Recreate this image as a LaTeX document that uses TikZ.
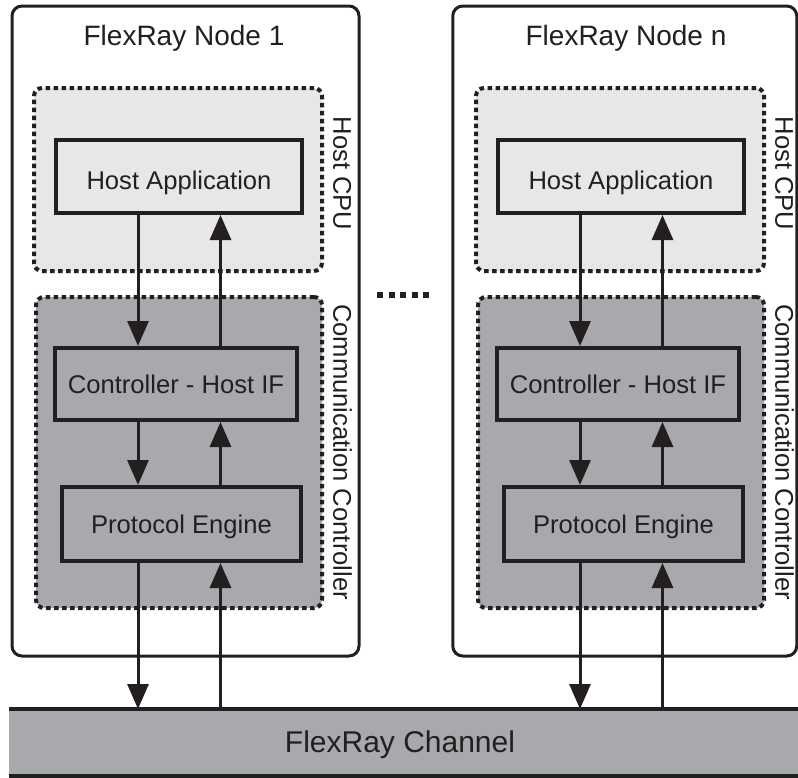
\documentclass[tikz,border=0pt]{standalone}
\usepackage{fontspec}
\setmainfont{Liberation Sans}
\usetikzlibrary{arrows.meta}

\definecolor{ink}{RGB}{35,31,32}
\definecolor{hostfill}{RGB}{230,231,232}
\definecolor{ccfill}{RGB}{167,169,172}

\tikzset{
  nodebox/.style={draw=ink, line width=3pt, rounded corners=10pt, inner sep=0pt},
  group/.style={draw=ink, line width=4pt, dash pattern=on 4.5pt off 3.5pt,
                rounded corners=8pt, inner sep=0pt},
  hostgroup/.style={group, fill=hostfill},
  ccgroup/.style={group, fill=ccfill},
  block/.style={draw=ink, line width=4pt, inner sep=0pt, text=ink,
                font=\fontsize{25.6}{30}\selectfont, text height=18.3pt, text depth=0pt},
  sidelabel/.style={rotate=-90, inner sep=0pt, text=ink,
                font=\fontsize{25.6}{30}\selectfont, text height=18.3pt, text depth=0pt},
  title/.style={anchor=base, inner sep=0pt, text=ink, font=\fontsize{28}{32}\selectfont},
  link/.style={draw=ink, line width=3pt, -{Triangle[length=25pt,width=21pt]}},
}

\begin{document}
\begin{tikzpicture}[x=1pt, y=-1pt]
  \useasboundingbox (0,0) rectangle (798,777);
  \clip (0,0) rectangle (798,777);
  \fill[white] (0,0) rectangle (798,777);

  % the shared bus
  \node[fill=ccfill, minimum width=793pt, minimum height=67pt, inner sep=0pt,
        anchor=north west] (ch) at (9,709) {};
  \draw[ink, line width=4.5pt] (ch.north west) -- (ch.north east);
  \draw[ink, line width=4.5pt] (ch.south west) -- (ch.south east);
  \node[inner sep=0pt, text=ink, font=\fontsize{30}{34}\selectfont,
        text height=21.5pt, text depth=0pt] (chlabel) at (400,742) {FlexRay Channel};

  % two FlexRay nodes, the second one shifted to the right
  \foreach \s/\dx/\w/\cx in {1/0/347/185.5, n/442/344/182.75} {
    \begin{scope}[xshift=\dx pt]
      \node[nodebox, minimum width=\w pt, minimum height=650pt] (box\s) at (\cx,331) {};
      \node[title] (title\s) at (184,45) {FlexRay Node \s};

      \node[hostgroup, minimum width=288pt, minimum height=183pt] (cpu\s) at (178,179.5) {};
      \node[ccgroup, minimum width=286pt, minimum height=311pt] (cc\s) at (179,452.5) {};
      \node[sidelabel] (cpulabel\s) at (342.5,173.5) {Host CPU};
      \node[sidelabel] (cclabel\s) at (342.5,452) {Communication Controller};

      \node[block, fill=hostfill, minimum width=246pt, minimum height=73pt,
            text height=26.3pt] (app\s) at (179,176.5) {Host Application};
      \node[block, fill=ccfill, minimum width=242pt, minimum height=72pt]
            (chi\s) at (176,384) {Controller - Host IF};
      \node[block, fill=ccfill, minimum width=239pt, minimum height=74pt]
            (pe\s) at (181.5,524) {Protocol Engine};

      \coordinate (down\s) at (138,0);
      \coordinate (up\s) at (220.5,0);

      \draw[link] (app\s.south -| down\s) -- (chi\s.north -| down\s);
      \draw[link] (chi\s.north -| up\s) -- (app\s.south -| up\s);
      \draw[link] (chi\s.south -| down\s) -- (pe\s.north -| down\s);
      \draw[link] (pe\s.north -| up\s) -- (chi\s.south -| up\s);
      \draw[link] (pe\s.south -| down\s) -- (ch.north -| down\s);
      \draw[link] (ch.north -| up\s) -- (pe\s.south -| up\s);
    \end{scope}
  }

  % ellipsis between the nodes
  \draw[ink, line width=6pt, dash pattern=on 6pt off 5.5pt] (377,295) -- (433,295);
\end{tikzpicture}
\end{document}
